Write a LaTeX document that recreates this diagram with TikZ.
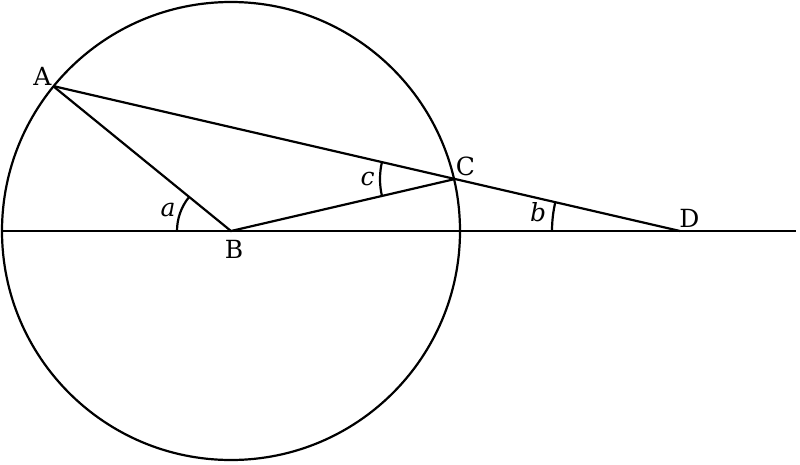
\documentclass[tikz,border=0pt]{standalone}
\usepackage{fontspec}
\setmainfont{DejaVu Serif}
\usetikzlibrary{calc}
\begin{document}
\begin{tikzpicture}[x=1pt,y=-1pt,
  geo/.style={line width=2.2pt,black},
  lab/.style={font=\fontsize{25}{29}\selectfont,inner sep=0pt},
  anglab/.style={font=\fontsize{25}{29}\selectfont\itshape,inner sep=0pt}]
\useasboundingbox (0,0) rectangle (800,464);
\coordinate (A) at (53,86);
\coordinate (B) at (231,231);
\coordinate (C) at (455,179);
\coordinate (D) at (680,231);
\coordinate (L) at (2,231);
\coordinate (R) at (796,231);
\draw[geo] (B) circle[radius=229];
\draw[geo] (L) -- (R);
\draw[geo] (A) -- (B) -- (C);
\draw[geo] (A) -- (C) -- (D);
% angle arcs (y axis flipped: angles measured clockwise)
\draw[geo] ($(B)+(180:54)$) arc[start angle=180,end angle=219.2,radius=54];
\draw[geo] ($(C)+(166.98:75)$) arc[start angle=166.98,end angle=193.07,radius=75];
\draw[geo] ($(D)+(180:128)$) arc[start angle=180,end angle=193.02,radius=128];
\node[lab] (lA) at (42.5,76.5) {A};
\node[lab] (lB) at (234,249) {B};
\node[lab] (lC) at (465.5,166.5) {C};
\node[lab] (lD) at (689.5,218) {D};
\node[anglab] (la) at (168,210) {a};
\node[anglab] (lc) at (367.5,179) {c};
\node[anglab] (lb) at (538,212) {b};
\end{tikzpicture}
\end{document}
